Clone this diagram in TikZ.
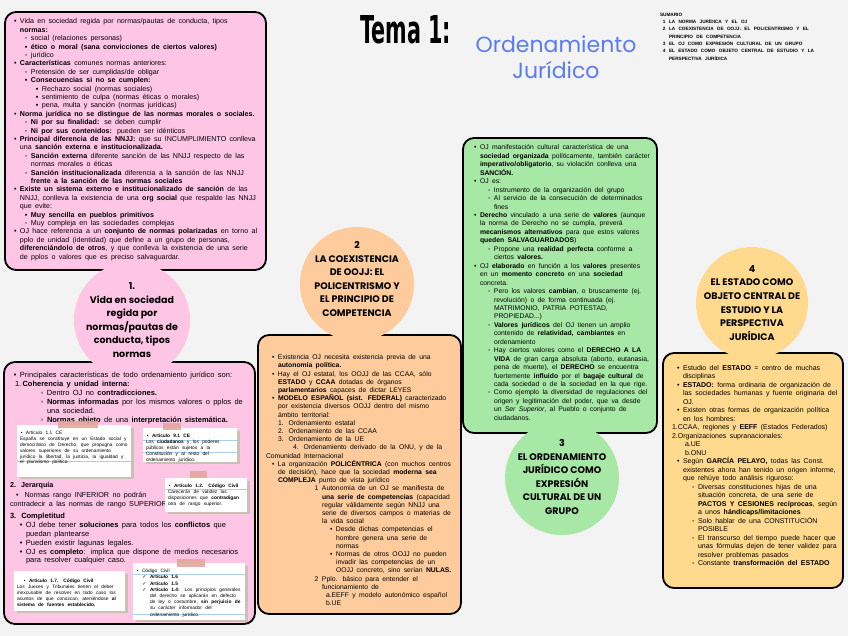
\documentclass[tikz,border=0pt]{standalone}
\usepackage{fontspec}
\usepackage{graphicx}
\setmainfont{Liberation Sans}
\newfontfamily\headfont{Poppins}
\newfontfamily\bigfont{DejaVu Sans}
\newfontfamily\symfont{DejaVu Sans}
\definecolor{bgc}{HTML}{F3F3F3}
\definecolor{pinkc}{HTML}{FFC5E5}
\definecolor{peachc}{HTML}{FDCB9C}
\definecolor{greenc}{HTML}{A8E8A6}
\definecolor{yellowc}{HTML}{FFD98E}
\definecolor{bluet}{HTML}{5A7CF2}
\definecolor{tapec}{HTML}{E2A398}
\definecolor{linec}{HTML}{A9CFEA}
\definecolor{shadc}{HTML}{C9C2B4}
\newcommand\bulA{\textbullet}
\newcommand\bulB{◦}
\newcommand\bulC{▪}
\newcommand\chk{{\symfont ✓}}
\newcommand\LL[3]{\par\leftskip=#1pt\noindent\llap{#2\hskip3.5pt}#3}
\newcommand\setup[2]{\fontsize{#1}{#2}\selectfont\parindent=0pt\rightskip=0pt\parfillskip=0pt plus 1fil\tolerance=10000\hyphenpenalty=10000\exhyphenpenalty=10000\emergencystretch=8pt}
\tikzset{
  panel/.style={draw=black, line width=1.8pt, rounded corners=11pt},
  txt/.style={anchor=north west, inner sep=0pt, outer sep=0pt},
  circtext/.style={align=center, inner sep=0pt, font=\headfont\bfseries\fontsize{9.5}{13.6}\selectfont},
  tape/.style={fill=tapec, opacity=0.85},
  cardline/.style={draw=linec, line width=0.6pt},
}
\begin{document}
\begin{tikzpicture}[x=1pt,y=-1pt]
\useasboundingbox (0,0) rectangle (848,636);
\fill[bgc] (0,0) rectangle (848,636);

% panels
\draw[panel, fill=pinkc] (5,12) rectangle (266,270);
\draw[panel, fill=pinkc] (4,362) rectangle (255,624);
\draw[panel, fill=peachc] (258,335) rectangle (461,614);
\draw[panel, fill=greenc] (463,138) rectangle (657,433);
\draw[panel, fill=yellowc] (663,353) rectangle (843,588);

% circles
\fill[pinkc] (132,320) circle[radius=58pt];
\fill[peachc] (357,284) circle[radius=57pt];
\fill[greenc] (562,478) circle[radius=57pt];
\fill[yellowc] (752,303) circle[radius=56pt];

% circle headings
\node[circtext] (c1) at (132,320) {1.\\Vida en sociedad\\regida por\\normas/pautas de\\conducta, tipos\\normas};
\node[circtext] (c2) at (357,279) {2\\LA COEXISTENCIA\\DE OOJJ: EL\\POLICENTRISMO Y\\EL PRINCIPIO DE\\COMPETENCIA};
\node[circtext] (c3) at (562,477) {3\\EL ORDENAMIENTO\\JURÍDICO COMO\\EXPRESIÓN\\CULTURAL DE UN\\GRUPO};
\node[circtext] (c4) at (752,303) {4\\EL ESTADO COMO\\OBJETO CENTRAL DE\\ESTUDIO Y LA\\PERSPECTIVA\\JURÍDICA};

% titles
\node[anchor=base west, inner sep=0pt] (tema) at (360,44) {\scalebox{0.54}[1]{\bigfont\bfseries\fontsize{38.4}{40}\selectfont Tema 1:}};
\node[anchor=base, inner sep=0pt, text=bluet, font=\headfont\fontsize{22}{25}\selectfont] (ord1) at (556,53) {Ordenamiento};
\node[anchor=base, inner sep=0pt, text=bluet, font=\headfont\fontsize{22}{25}\selectfont] (ord2) at (556,79) {Jurídico};
\node[txt, text width=175pt] (sumario) at (660,13) {\setup{4.7}{7.3}\bfseries\raggedright SUMARIO
\LL{9}{1}{LA NORMA JURÍDICA Y EL OJ}
\LL{9}{2}{LA COEXISTENCIA DE OOJJ: EL POLICENTRISMO Y EL\newline PRINCIPIO DE COMPETENCIA}
\LL{9}{3}{EL OJ COMO EXPRESIÓN CULTURAL DE UN GRUPO}
\LL{9}{4}{EL ESTADO COMO OBJETO CENTRAL DE ESTUDIO Y LA\newline PERSPECTIVA JURÍDICA}\par};

% top-left text
\node[txt, text width=247pt] (tltext) at (11,15.5) {\setup{7.1}{8.4}%
\LL{9}{\bulA}{Vida en sociedad regida por normas/pautas de conducta, tipos \textbf{normas:}}
\LL{20}{\bulB}{social (relaciones personas)}
\LL{20}{\bulC}{\textbf{ético o moral (sana convicciones de ciertos valores)}}
\LL{20}{\bulB}{jurídico}
\LL{9}{\bulA}{\textbf{Características} comunes normas anteriores:}
\LL{20}{\bulB}{Pretensión de ser cumplidas/de obligar}
\LL{20}{\bulC}{\textbf{Consecuencias si no se cumplen:}}
\LL{31}{\bulC}{Rechazo social (normas sociales)}
\LL{31}{\bulC}{sentimiento de culpa (normas éticas o morales)}
\LL{31}{\bulC}{pena, multa y sanción (normas jurídicas)}
\LL{9}{\bulA}{\textbf{Norma jurídica no se distingue de las normas morales o sociales.}}
\LL{20}{\bulB}{\textbf{Ni por su finalidad:} se deben cumplir}
\LL{20}{\bulB}{\textbf{Ni por sus contenidos:} pueden ser idénticos}
\LL{9}{\bulA}{\textbf{Principal diferencia de las NNJJ:} que su INCUMPLIMIENTO conlleva una \textbf{sanción externa e institucionalizada.}}
\LL{20}{\bulB}{\textbf{Sanción externa} diferente sanción de las NNJJ respecto de las normas morales o éticas}
\LL{20}{\bulB}{\textbf{Sanción institucionalizada} diferencia a la sanción de las NNJJ \textbf{frente a la sanción de las normas sociales}}
\LL{9}{\bulA}{\textbf{Existe un sistema externo e institucionalizado de sanción} de las NNJJ, conlleva la existencia de una \textbf{org social} que respalde las NNJJ que evite:}
\LL{20}{\bulC}{\textbf{Muy sencilla en pueblos primitivos}}
\LL{20}{\bulB}{Muy compleja en las sociedades complejas}
\LL{9}{\bulA}{OJ hace referencia a un \textbf{conjunto de normas polarizadas} en torno al pplo de unidad (identidad) que define a un grupo de personas, \textbf{diferenciándolo de otros}, y que conlleva la existencia de una serie de pplos o valores que es preciso salvaguardar.}\par};

% green text
\node[txt, text width=180pt] (greentext) at (470,141.5) {\setup{6.8}{8.45}%
\LL{10}{\bulA}{OJ manifestación cultural característica de una \textbf{sociedad organizada} políticamente, también carácter \textbf{imperativo/obligatorio}, su violación conlleva una \textbf{SANCIÓN.}}
\LL{10}{\bulA}{OJ es:}
\LL{24}{\bulB}{Instrumento de la organización del grupo}
\LL{24}{\bulB}{Al servicio de la consecución de determinados fines}
\LL{10}{\bulA}{\textbf{Derecho} vinculado a una serie de \textbf{valores} (aunque la norma de Derecho no se cumpla, preverá \textbf{mecanismos alternativos} para que estos valores \textbf{queden SALVAGUARDADOS})}
\LL{24}{\bulB}{Propone una \textbf{realidad perfecta} conforme a ciertos \textbf{valores.}}
\LL{10}{\bulA}{OJ \textbf{elaborado} en función a los \textbf{valores} presentes en un \textbf{momento concreto} en una \textbf{sociedad} concreta.}
\LL{24}{\bulB}{Pero los valores \textbf{cambian}, o bruscamente (ej. revolución) o de forma continuada (ej. MATRIMONIO, PATRIA POTESTAD, PROPIEDAD...)}
\LL{24}{\bulB}{\textbf{Valores jurídicos} del OJ tienen un amplio contenido de \textbf{relatividad, cambiantes} en ordenamiento}
\LL{24}{\bulB}{Hay ciertos valores como el \textbf{DERECHO A LA VIDA} de gran carga absoluta (aborto, eutanasia, pena de muerte), el \textbf{DERECHO} se encuentra fuertemente \textbf{influido} por el \textbf{bagaje cultural} de cada sociedad o de la sociedad en la que rige.}
\LL{24}{\bulB}{Como ejemplo la diversidad de regulaciones del origen y legitimación del poder, que va desde un \textit{Ser Superior}, al Pueblo o conjunto de ciudadanos.}\par};

% orange text
\node[txt, text width=186pt] (orangetext) at (266,351.5) {\setup{6.8}{8.2}%
\LL{12}{\bulA}{Existencia OJ necesita existencia previa de una \textbf{autonomía política.}}
\LL{12}{\bulA}{Hay el OJ estatal, los OOJJ de las CCAA, sólo \textbf{ESTADO} y \textbf{CCAA} dotadas de órganos \textbf{parlamentarios} capaces de dictar LEYES}
\LL{12}{\bulA}{\textbf{MODELO ESPAÑOL (sist. FEDERAL)} caracterizado por existencia diversos OOJJ dentro del mismo ámbito territorial:}
\LL{12}{}{1. Ordenamiento estatal}
\LL{12}{}{2. Ordenamiento de las CCAA}
\LL{12}{}{3. Ordenamiento de la UE}
\LL{0}{}{\hspace*{27pt}4. Ordenamiento derivado de la ONU, y de la Comunidad Internacional}
\LL{12}{\bulA}{La organización \textbf{POLICÉNTRICA} (con muchos centros de decisión), hace que la sociedad \textbf{moderna sea COMPLEJA} punto de vista jurídico}
\LL{56}{1}{Autonomía de un OJ se manifiesta de \textbf{una serie de competencias} (capacidad regular válidamente según NNJJ una serie de diversos campos o materias de la vida social}
\LL{70}{\bulA}{Desde dichas competencias el hombre genera una serie de normas}
\LL{70}{\bulA}{Normas de otros OOJJ no pueden invadir las competencias de un OOJJ concreto, sino serían \textbf{NULAS.}}
\LL{56}{2}{Pplo. básico para entender el funcionamiento de}
\LL{60}{}{a.EEFF y modelo autonómico español}
\LL{60}{}{b.UE}\par};

% right text
\node[txt, text width=168pt] (righttext) at (670,361.5) {\setup{7}{8.5}%
\LL{13}{\bulA}{Estudio del \textbf{ESTADO} = centro de muchas disciplinas}
\LL{13}{\bulA}{\textbf{ESTADO:} forma ordinaria de organización de las sociedades humanas y fuente originaria del OJ.}
\LL{13}{\bulA}{Existen otras formas de organización política en los hombres:}
\LL{2}{}{1.CCAA, regiones y \textbf{EEFF} (Estados Federados)}
\LL{2}{}{2.Organizaciones supranacionales:}
\LL{15}{}{a.UE}
\LL{15}{}{b.ONU}
\LL{13}{\bulA}{Según \textbf{GARCÍA PELAYO,} todas las Const. existentes ahora han tenido un origen informe, que rehúye todo análisis riguroso:}
\LL{28}{\bulB}{Diversas constituciones hijas de una situación concreta, de una serie de \textbf{PACTOS Y CESIONES recíprocas}, según a unos \textbf{hándicaps/limitaciones}}
\LL{28}{\bulB}{Solo hablar de una CONSTITUCIÓN POSIBLE}
\LL{28}{\bulB}{El transcurso del tiempo puede hacer que unas fórmulas dejen de tener validez para resolver problemas pasados}
\LL{28}{\bulB}{Constante \textbf{transformación del ESTADO}}\par};

% bottom-left text
\node[txt, text width=233pt] (bltext1) at (10,368) {\setup{7.5}{9}%
\LL{10}{\bulA}{Principales características de todo ordenamiento jurídico son:}
\LL{5}{}{1.\,\textbf{Coherencia y unidad interna:}}
\LL{37}{\bulB}{Dentro OJ no \textbf{contradicciones.}}
\LL{37}{\bulB}{\textbf{Normas informadas} por los mismos valores o pplos de una sociedad.}
\LL{37}{\bulB}{\textbf{Normas objeto} de una \textbf{interpretación sistemática.}}\par};
\node[txt, text width=233pt] (bltext2) at (10,478) {\setup{7.2}{9.5}%
\LL{0}{}{\textbf{2. Jerarquía}}
\LL{0}{}{\hspace*{6pt}\bulA\hspace{6pt}Normas rango INFERIOR no podrán\newline contradecir a las normas de rango SUPERIOR}\par};
\node[txt, text width=233pt] (bltext3) at (10,510) {\setup{7.5}{8.8}%
\LL{0}{}{\textbf{3. Completitud}}
\LL{16}{\bulA}{OJ debe tener \textbf{soluciones} para todos los \textbf{conflictos} que puedan plantearse}
\LL{16}{\bulA}{Pueden existir lagunas legales.}
\LL{16}{\bulA}{OJ es \textbf{completo}: implica que dispone de medios necesarios para resolver cualquier caso.}\par};

% cards
\fill[shadc] (20,428) rectangle (134,479);
\fill[white] (17,425) rectangle (131,477);
\draw[cardline] (17,461) -- (131,461);
\fill[tape] (58,421) rectangle (98,428);
\node[txt, text width=108pt] (cardA) at (20,428.5) {\setup{4.8}{5.9}%
\LL{6}{\bulA}{Artículo 1.1 CE}
\LL{0}{}{España se constituye en un Estado social y democrático de Derecho, que propugna como valores superiores de su ordenamiento jurídico la libertad, la justicia, la igualdad y el pluralismo político.}\par};

\fill[shadc] (146,431) rectangle (240,464);
\fill[white] (143,428) rectangle (237,462);
\draw[cardline] (143,440) -- (237,440);
\draw[cardline] (143,452) -- (237,452);
\fill[tape] (163,423) rectangle (181,430);
\node[txt, text width=88pt] (cardB) at (146,431.5) {\setup{4.8}{6}%
\LL{6}{\bulA}{\textbf{Artículo 9.1 CE}}
\LL{0}{}{Los \textbf{ciudadanos} y los poderes públicos están sujetos a la Constitución y al resto del ordenamiento jurídico.}\par};

\fill[shadc] (168,481) rectangle (250,514);
\fill[white] (165,478) rectangle (247,512);
\draw[cardline] (165,489) -- (247,489);
\fill[tape] (190,471) rectangle (207,478);
\node[txt, text width=77pt] (cardC) at (168,481.5) {\setup{4.8}{6}%
\LL{6}{\bulA}{\textbf{Artículo 1.2. Código Civil}}
\LL{0}{}{Carecerán de validez las disposiciones que \textbf{contradigan} otra de rango superior.}\par};

\fill[shadc] (17,574) rectangle (128,613);
\fill[white] (14,571) rectangle (125,611);
\node[txt, text width=105pt] (cardD) at (17,576.5) {\setup{4.8}{6}%
\LL{12}{\bulA}{\textbf{Artículo 1.7. Código Civil}}
\LL{0}{}{Los Jueces y Tribunales tienen el deber inexcusable de resolver en todo caso los asuntos de que conozcan, ateniéndose \textbf{al sistema de fuentes establecido.}}\par};

\fill[shadc] (136,566) rectangle (248,622);
\fill[white] (133,563) rectangle (245,620);
\draw[cardline] (133,574) -- (245,574);
\draw[cardline] (133,614) -- (245,614);
\fill[tape] (177,559) rectangle (205,567);
\node[txt, text width=106pt] (cardE) at (136,566.5) {\setup{4.8}{6.2}%
\LL{6}{\bulA}{Código Civil}
\LL{14}{\chk}{\textbf{Artículo 1.6}}
\LL{14}{\chk}{\textbf{Artículo 1.5}}
\LL{14}{\chk}{\textbf{Artículo 1.4:} Los principios generales del derecho se aplicarán en defecto de ley o costumbre, \textbf{sin perjuicio de} su carácter informador del ordenamiento jurídico.}\par};
\end{tikzpicture}
\end{document}
